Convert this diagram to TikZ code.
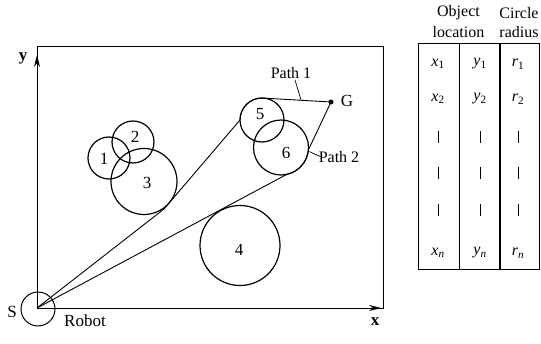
\documentclass[tikz,border=0pt]{standalone}
\usepackage{fontspec}
\setmainfont{Liberation Serif}
\usetikzlibrary{arrows.meta,calc}
\begin{document}
\begin{tikzpicture}[x=1pt,y=1pt,
  every node/.style={font=\fontsize{16}{19}\selectfont, inner sep=0pt},
  obst/.style={draw, circle, line width=1.2pt, inner sep=0pt, outer sep=0pt},
  pathline/.style={line width=0.9pt, line join=round},
  frameline/.style={line width=0.8pt},
  axis/.style={line width=0.9pt, -{Stealth[length=12pt,width=6pt]}},
  bar/.style={line width=0.8pt},
  tab/.style={line width=0.9pt}
]
\useasboundingbox (0,0) rectangle (541,343);

% frame and axes
\coordinate (O) at (37,35);
\draw[frameline] (O) rectangle (383,297);
\coordinate (ytip) at (37,288);
\coordinate (xtip) at (381,35);
\draw[axis] (O) -- (ytip);
\draw[axis] (O) -- (xtip);
\node[font=\fontsize{17}{19}\selectfont\bfseries] (ylab) at (23,285) {y};
\node[font=\fontsize{17}{19}\selectfont\bfseries] (xlab) at (375,21) {x};

% robot
\node[obst, minimum size=34pt, line width=1pt] (robot) at (38,34) {};
\node[font=\fontsize{17}{19}\selectfont] (Slab) at (12,31) {S};
\node[font=\fontsize{17}{19}\selectfont] (robotlab) at (85,22) {Robot};

% obstacles
\node[obst, minimum size=42pt] (c1) at (109,185) {};
\node[obst, minimum size=42pt] (c2) at (133,201) {};
\node[obst, minimum size=66pt] (c3) at (144,161.5) {};
\node[obst, minimum size=80pt] (c4) at (240,97.5) {};
\node[obst, minimum size=44pt] (c5) at (262,223) {};
\node[obst, minimum size=55pt] (c6) at (281,195.5) {};
\node[font=\fontsize{17}{19}\selectfont] (l1) at (104,184) {1};
\node[font=\fontsize{17}{19}\selectfont] (l2) at (135,206) {2};
\node[font=\fontsize{17}{19}\selectfont] (l3) at (147,160) {3};
\node[font=\fontsize{17}{19}\selectfont] (l4) at (239,93) {4};
\node[font=\fontsize{17}{19}\selectfont] (l5) at (260,229) {5};
\node[font=\fontsize{17}{19}\selectfont] (l6) at (286,190) {6};

% goal
\node[circle, fill, minimum size=5pt] (G) at (331,241) {};
\node[font=\fontsize{17}{19}\selectfont] (Glab) at (347,242) {G};

% path 1
\coordinate (K1) at (164,134);
\coordinate (P5) at (240,223);
\draw[pathline] (O) -- (K1) -- (P5) arc[start angle=180, end angle=90, radius=22] -- (G.center);

% path 2
\coordinate (P2) at ($(281,195.5)+(-78:27.5)$);
\draw[pathline] (O) -- (P2) arc[start angle=-78, end angle=-5, radius=27.5] -- (G.center);

% path labels
\node (path1lab) at (291,270) {Path 1};
\coordinate (p1a) at (295,263);
\coordinate (p1b) at (301,243);
\draw[line width=0.7pt] (p1a) -- (p1b);
\node (path2lab) at (339,186) {Path 2};
\coordinate (p2a) at (309.5,191.5);
\coordinate (p2b) at (320.5,186.5);
\draw[line width=0.7pt] (p2a) .. controls (314,189) .. (p2b);

% table
\draw[tab] (418,74) rectangle (539,300);
\draw[tab] (459,74) -- (459,300);
\draw[tab, line width=1.3pt] (500,74) -- (500,300);
\node (h1) at (458.5,330) {Object};
\node (h2) at (458.5,311) {location};
\node (h3) at (519,330) {Circle};
\node (h4) at (519,311) {radius};

\node (x1) at (438,279) {\textit{x}\textsubscript{1}};
\node (y1) at (480,279) {\textit{y}\textsubscript{1}};
\node (r1) at (518,279) {\textit{r}\textsubscript{1}};
\node (x2) at (438,244) {\textit{x}\textsubscript{2}};
\node (y2) at (480,244) {\textit{y}\textsubscript{2}};
\node (r2) at (518,244) {\textit{r}\textsubscript{2}};
\node (xn) at (438,90) {\textit{x}\textsubscript{\itshape n}};
\node (yn) at (480,90) {\textit{y}\textsubscript{\itshape n}};
\node (rn) at (518,90) {\textit{r}\textsubscript{\itshape n}};

\foreach \yy in {206,170,133}{
  \draw[bar] (438,\yy-6) -- (438,\yy+6);
  \draw[bar] (480,\yy-6) -- (480,\yy+6);
  \draw[bar] (518,\yy-6) -- (518,\yy+6);
}
\end{tikzpicture}
\end{document}
